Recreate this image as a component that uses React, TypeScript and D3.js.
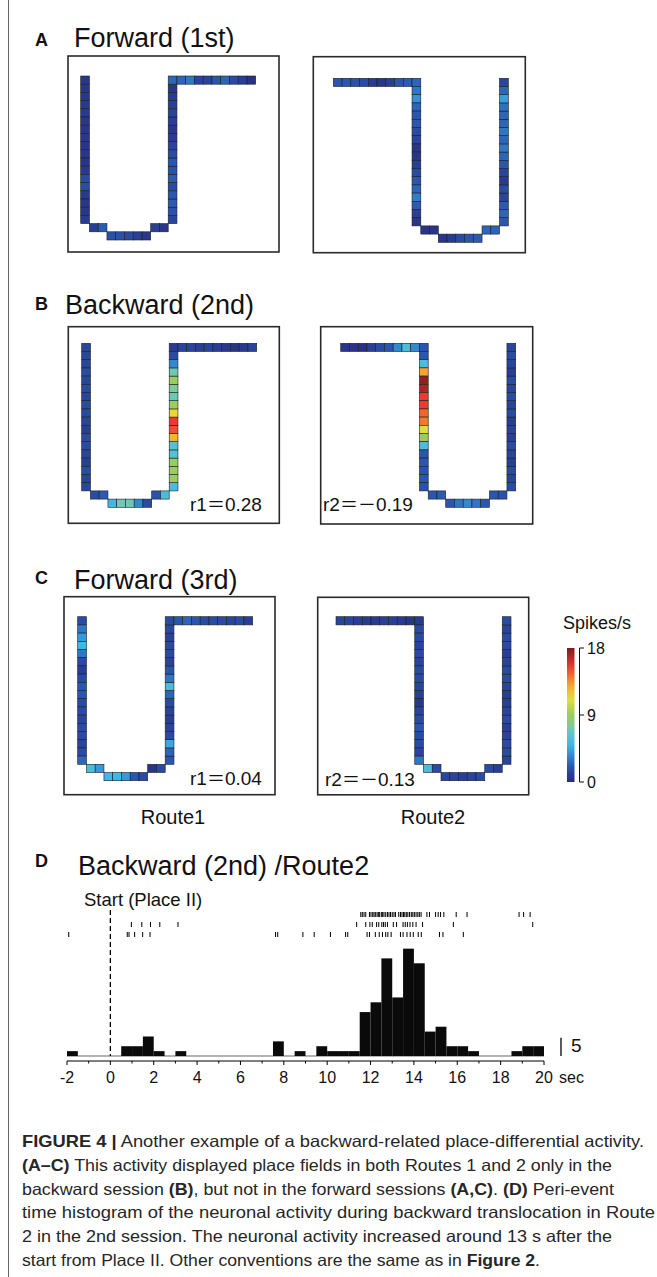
import React from "react";
import * as d3 from "d3";

// ---------------- DATA ----------------
// Firing-rate maps (spikes/s), listed cell by cell along each route path.
// Route1 order: left arm top->bottom (18), bottom (9), right arm bottom->top (17), top arm left->right (10)
// Route2 order: top arm left->right (10), left arm top->bottom (17), bottom (9), right arm bottom->top (18)
const mapA1 = [0.6, 0.5, 0.6, 0.7, 0.8, 0.6, 0.5, 0.6, 0.5, 0.6, 0.5, 0.7, 1.5, 1.6, 0.8, 0.6, 0.6, 0.8,
  1, 2.2, 1.8, 1.8, 1.5, 1, 0.6, 1, 0.6,
  1.2, 1.8, 2.2, 2, 1.5, 2.2, 1.8, 2, 1.5, 1.2, 0.8, 0.6, 1, 1.2, 1, 0.8, 0.5,
  2.5, 2.5, 3, 1.2, 1.2, 2, 2.5, 1.5, 1, 0.4];
const mapA2 = [2, 2, 1.8, 1.5, 0.8, 0.6, 1, 2, 2.2, 2.5,
  3, 3.8, 2.5, 2, 2, 1.5, 1.2, 0.5, 0.5, 1, 1.5, 2, 2.5, 3.2, 2.2, 1, 0.5,
  0.5, 0.5, 0.5, 0.8, 1.5, 2, 2.2, 2.5, 2.5,
  2, 2.5, 2.2, 1.2, 1.5, 0.8, 1.2, 2, 2.5, 3, 2.5, 3, 2.5, 2.5, 2.8, 4.2, 2.5, 1.2];
const mapB1 = [1.3, 1.2, 1.3, 1.5, 1.3, 1.5, 1.3, 1.5, 1.5, 1.2, 1, 1.5, 1.5, 1.2, 1, 1.5, 1.2, 1.3,
  1.5, 2.2, 5, 7, 7, 3.5, 1.5, 1.8, 5.5,
  5.5, 9, 9, 8.8, 6, 6, 12.5, 15, 15.5, 11.5, 9, 7, 7.5, 9, 7, 3.5, 1.5,
  0.8, 1.2, 1.2, 1, 1.2, 1, 0.6, 0.5, 0.7, 1.2];
const mapB2 = [0.5, 0.5, 0.3, 1, 1.5, 2, 3.5, 5.5, 3.5, 2,
  2, 5.5, 13, 17.5, 17, 15.5, 15.5, 14.5, 14, 11, 9, 5.5, 2, 2, 1.8, 2, 1.8,
  2, 2.2, 2, 3, 3.5, 3, 2, 2, 1.8,
  1.5, 1.2, 1.5, 1, 1.2, 1.5, 1, 1.2, 1, 1.5, 1.2, 1.5, 1.3, 1.5, 1, 1.2, 1.5, 1.3];
const mapC1 = [1.5, 3, 4, 5, 3, 1.5, 1, 1.5, 2, 2, 1.5, 1.5, 1.2, 1.5, 1.5, 1.2, 1.5, 2.5,
  5.5, 4, 5, 5, 4, 2, 1.5, 0.5, 1.5,
  2, 2.5, 4.5, 1.5, 1.2, 1, 1.2, 1.5, 2.5, 5.5, 3, 2, 1.2, 1.5, 1.5, 1.2, 1.5,
  1.5, 2, 2.5, 2, 1.5, 1.5, 1.5, 1.2, 1.5, 1];
const mapC2 = [1.2, 1.2, 1, 0.8, 0.8, 1, 1, 0.8, 0.6, 0.8,
  1.5, 1.5, 1.2, 1.5, 1.2, 1.5, 1.5, 1.2, 1, 0.6, 1.2, 1.5, 2, 1.5, 1.5, 1.2, 3,
  5.5, 1.5, 1.2, 1.2, 1, 1.2, 1.5, 1.5, 1,
  1.2, 1.5, 1.5, 1.2, 1, 1.5, 1.2, 1, 1, 1.2, 1.5, 1.5, 1.2, 1, 1.5, 1.5, 1.2, 1.5];

// Spike raster (s relative to start), three trials
const trial1 = [11.55, 11.62, 11.7, 11.78, 11.95, 12.02, 12.1, 12.16, 12.22, 12.3, 12.36, 12.42, 12.5, 12.56,
  12.62, 12.7, 12.78, 12.85, 12.92, 13.0, 13.08, 13.15, 13.3, 13.38, 13.45, 13.52, 13.58, 13.65, 13.72, 13.8,
  13.88, 13.95, 14.02, 14.1, 14.18, 14.25, 14.33, 14.6, 14.72, 15.0, 15.12, 15.23, 15.38, 15.95, 16.45,
  18.85, 19.06, 19.36];
const trial2 = [0.97, 1.45, 1.85, 2.28, 3.12, 11.36, 11.78, 11.97, 12.08, 12.28, 12.38, 12.52, 12.6, 12.68,
  12.78, 13.05, 13.2, 13.5, 13.6, 13.7, 13.82, 13.95, 14.1, 14.4, 15.82, 19.48];
const trial3 = [-1.92, 0.78, 0.86, 1.12, 1.49, 1.83, 7.62, 7.72, 8.88, 9.4, 10.15, 10.85, 10.95, 11.84, 11.95,
  12.22, 12.4, 12.55, 12.7, 12.8, 12.95, 13.38, 13.5, 13.68, 13.83, 13.97, 14.2, 14.34, 15.18, 15.34, 16.28];

// Peri-event time histogram: 0.5 s bins starting at -2 s (spikes/s)
const binStart = -2;
const binWidth = 0.5;
const psthRate = [1.33, 0, 0, 0, 0, 2.67, 2.67, 5.33, 1.33, 0, 1.33, 0, 0, 0, 0, 0, 0, 0, 0, 4, 0, 1.33,
  0, 2.67, 1.33, 1.33, 1.33, 12, 14.67, 26.67, 16, 29.33, 25.33, 6.67, 8, 2.67, 2.67, 1.33, 0, 0, 0,
  1.33, 2.67, 2.67];
const timeTicks = [-2, 0, 2, 4, 6, 8, 10, 12, 14, 16, 18, 20];
const minorTicks = [-1, 1, 3, 5, 7, 9, 11, 13, 15, 17, 19];
const colorbarTicks = [0, 9, 18];

const FONT = "'Liberation Sans', Arial, Helvetica, sans-serif";
const CJK = "'Noto Sans CJK JP', 'Liberation Sans', sans-serif";

// jet-like colormap (as printed)
const cmap = d3
  .scaleLinear<string>()
  .domain([0, 1, 2.25, 3.5, 5, 6.5, 8, 9, 11.25, 13, 15.5, 18])
  .range(["#2a2b78", "#283f98", "#2b5cb5", "#3189d2", "#40b8e6", "#5ec7cc", "#8ccb86", "#9dcc5e",
    "#e6e03a", "#f5a52e", "#ee3a2e", "#7a1a1e"])
  .interpolate(d3.interpolateRgb)
  .clamp(true);

function route1Path(): [number, number][] {
  const p: [number, number][] = [];
  for (let r = 0; r < 18; r++) p.push([0, r]);
  p.push([1, 18], [2, 18]);
  for (let c = 3; c <= 7; c++) p.push([c, 19]);
  p.push([8, 18], [9, 18]);
  for (let r = 17; r >= 1; r--) p.push([10, r]);
  for (let c = 10; c < 20; c++) p.push([c, 0]);
  return p;
}
function route2Path(): [number, number][] {
  return route1Path().slice().reverse().map(([c, r]) => [19 - c, r] as [number, number]);
}

const CELL_W = 8.75;
const CELL_H = 8.2;

type Panel = {
  box: [number, number, number, number];
  grid: [number, number];
  route: 1 | 2;
  values: number[];
  label?: string;
  labelPos?: [number, number];
};

const panels: Panel[] = [
  { box: [68, 56, 211, 196], grid: [80.7, 76], route: 1, values: mapA1 },
  { box: [313.3, 56.7, 212, 196], grid: [333.3, 78.3], route: 2, values: mapA2 },
  { box: [68.3, 326.7, 211, 196.6], grid: [81.7, 343.3], route: 1, values: mapB1, label: "r1|＝|0.28", labelPos: [190, 511] },
  { box: [320.7, 326.7, 212, 197.3], grid: [340.7, 343.3], route: 2, values: mapB2, label: "r2|＝－|0.19", labelPos: [323, 511] },
  { box: [64, 596.7, 211, 198], grid: [77.7, 616.7], route: 1, values: mapC1, label: "r1|＝|0.04", labelPos: [190, 785] },
  { box: [317.7, 597.3, 211, 197.5], grid: [336, 616.7], route: 2, values: mapC2, label: "r2|＝－|0.13", labelPos: [325, 786] },
];

function MapPanel({ p }: { p: Panel }) {
  const xs = d3.scaleLinear().domain([0, 20]).range([p.grid[0], p.grid[0] + 20 * CELL_W]);
  const ys = d3.scaleLinear().domain([0, 20]).range([p.grid[1], p.grid[1] + 20 * CELL_H]);
  const path = p.route === 1 ? route1Path() : route2Path();
  const parts = p.label ? p.label.split("|") : [];
  return (
    <g>
      <rect x={p.box[0]} y={p.box[1]} width={p.box[2]} height={p.box[3]} fill="#fff" stroke="#2a2a2a" strokeWidth={1.6} />
      {path.map(([c, r], i) => (
        <rect key={i} x={xs(c)} y={ys(r)} width={xs(c + 1) - xs(c)} height={ys(r + 1) - ys(r)}
          fill={cmap(p.values[i])} stroke="#1e1e1e" strokeWidth={0.6} />
      ))}
      {p.label && p.labelPos && (
        <text x={p.labelPos[0]} y={p.labelPos[1]} fontFamily={FONT} fontSize={19} fill="#111">
          {parts[0]}
          <tspan fontFamily={CJK} fontSize={18}>{parts[1]}</tspan>
          {parts[2]}
        </text>
      )}
    </g>
  );
}

function Colorbar() {
  const y = d3.scaleLinear().domain([0, 18]).range([782, 648]);
  const stops = d3.range(0, 18.01, 1);
  return (
    <g>
      <defs>
        <linearGradient id="cbar" x1="0" y1="1" x2="0" y2="0">
          {stops.map((v) => (
            <stop key={v} offset={`${(v / 18) * 100}%`} stopColor={cmap(v)} />
          ))}
        </linearGradient>
      </defs>
      <text x={563} y={629} fontFamily={FONT} fontSize={18} fill="#111">Spikes/s</text>
      <rect x={567} y={y(18)} width={7.5} height={y(0) - y(18)} fill="url(#cbar)" />
      <line x1={579.5} x2={579.5} y1={y(18)} y2={y(0)} stroke="#111" strokeWidth={1} />
      {colorbarTicks.map((t) => (
        <g key={t}>
          <line x1={579.5} x2={584} y1={y(t)} y2={y(t)} stroke="#111" strokeWidth={1} />
          <text x={587} y={y(t) + 6} fontFamily={FONT} fontSize={16} fill="#111">{t}</text>
        </g>
      ))}
    </g>
  );
}

function Psth() {
  const x = d3.scaleLinear().domain([-2, 20]).range([67, 544]);
  const y = d3.scaleLinear().domain([0, 5]).range([1056, 1037.7]);
  const axisY = 1061;
  const rows = [trial1, trial2, trial3];
  const rowTop = [912, 922, 932];
  return (
    <g>
      <text x={84} y={906} fontFamily={FONT} fontSize={18.5} fill="#111">Start (Place II)</text>
      {rows.map((tr, ri) =>
        tr.map((t, i) => (
          <line key={`${ri}-${i}`} x1={x(t)} x2={x(t)} y1={rowTop[ri]} y2={rowTop[ri] + 5}
            stroke="#000" strokeWidth={1} />
        ))
      )}
      <line x1={x(-2)} x2={x(20)} y1={y(0)} y2={y(0)} stroke="#9a9a9a" strokeWidth={1.3} />
      {psthRate.map((v, i) =>
        v > 0 ? (
          <rect key={i} x={x(binStart + i * binWidth)} y={y(v)}
            width={x(binStart + (i + 1) * binWidth) - x(binStart + i * binWidth)} height={y(0) - y(v)}
            fill="#0a0a0a" />
        ) : null
      )}
      <line x1={x(0)} x2={x(0)} y1={910} y2={y(0)} stroke="#000" strokeWidth={1.3} strokeDasharray="5,3" />
      <line x1={x(-2)} x2={x(20)} y1={axisY} y2={axisY} stroke="#000" strokeWidth={1} />
      {timeTicks.map((t) => (
        <g key={t}>
          <line x1={x(t)} x2={x(t)} y1={axisY} y2={axisY + 4} stroke="#000" strokeWidth={1} />
          <text x={x(t)} y={1083} textAnchor="middle" fontFamily={FONT} fontSize={16} fill="#111">{t}</text>
        </g>
      ))}
      {minorTicks.map((t) => (
        <line key={t} x1={x(t)} x2={x(t)} y1={axisY} y2={axisY + 2.5} stroke="#000" strokeWidth={1} />
      ))}
      <text x={559} y={1083} fontFamily={FONT} fontSize={16} fill="#111">sec</text>
      <line x1={561} x2={561} y1={y(0)} y2={y(5)} stroke="#000" strokeWidth={1.3} />
      <text x={571} y={1052} fontFamily={FONT} fontSize={19} fill="#111">5</text>
    </g>
  );
}

function Caption() {
  const lines: { parts: [string, boolean][]; len: number; y: number }[] = [
    { parts: [["FIGURE 4 |", true], [" Another example of a backward-related place-differential activity.", false]], len: 622, y: 1147 },
    { parts: [["(A–C)", true], [" This activity displayed place fields in both Routes 1 and 2 only in the", false]], len: 590, y: 1171 },
    { parts: [["backward session ", false], ["(B)", true], [", but not in the forward sessions ", false], ["(A,C)", true], [". ", false], ["(D)", true], [" Peri-event", false]], len: 592, y: 1195 },
    { parts: [["time histogram of the neuronal activity during backward translocation in Route", false]], len: 633, y: 1218 },
    { parts: [["2 in the 2nd session. The neuronal activity increased around 13 s after the", false]], len: 590, y: 1242 },
    { parts: [["start from Place II. Other conventions are the same as in ", false], ["Figure 2", true], [".", false]], len: 518, y: 1266 },
  ];
  return (
    <g>
      {lines.map((l, i) => (
        <text key={i} x={22} y={l.y} fontFamily={FONT} fontSize={16.5} fill="#262626"
          textLength={l.len} lengthAdjust="spacingAndGlyphs">
          {l.parts.map(([s, b], j) => (
            <tspan key={j} fontWeight={b ? "bold" : "normal"}>{s}</tspan>
          ))}
        </text>
      ))}
    </g>
  );
}

export default function App() {
  return (
    <svg width={657} height={1277} style={{ position: "absolute", left: 0, top: 0, background: "#fff" }}
      xmlns="http://www.w3.org/2000/svg">
      <rect x={0} y={0} width={657} height={1277} fill="#fff" />
      <line x1={8.5} x2={8.5} y1={0} y2={1277} stroke="#666" strokeWidth={1} />

      <text x={35} y={46} fontFamily={FONT} fontSize={18} fontWeight="bold" fill="#111">A</text>
      <text x={74} y={47} fontFamily={FONT} fontSize={27} fill="#111">Forward (1st)</text>
      <text x={35} y={310} fontFamily={FONT} fontSize={18} fontWeight="bold" fill="#111">B</text>
      <text x={65} y={314} fontFamily={FONT} fontSize={27} fill="#111">Backward (2nd)</text>
      <text x={35} y={584} fontFamily={FONT} fontSize={18} fontWeight="bold" fill="#111">C</text>
      <text x={74} y={589} fontFamily={FONT} fontSize={27} fill="#111">Forward (3rd)</text>
      <text x={35} y={867} fontFamily={FONT} fontSize={18} fontWeight="bold" fill="#111">D</text>
      <text x={78} y={875} fontFamily={FONT} fontSize={27} fill="#111">Backward (2nd) /Route2</text>

      {panels.map((p, i) => (
        <MapPanel key={i} p={p} />
      ))}
      <Colorbar />
      <text x={173} y={824} textAnchor="middle" fontFamily={FONT} fontSize={20} fill="#111">Route1</text>
      <text x={433} y={824} textAnchor="middle" fontFamily={FONT} fontSize={20} fill="#111">Route2</text>

      <Psth />
      <Caption />
    </svg>
  );
}
